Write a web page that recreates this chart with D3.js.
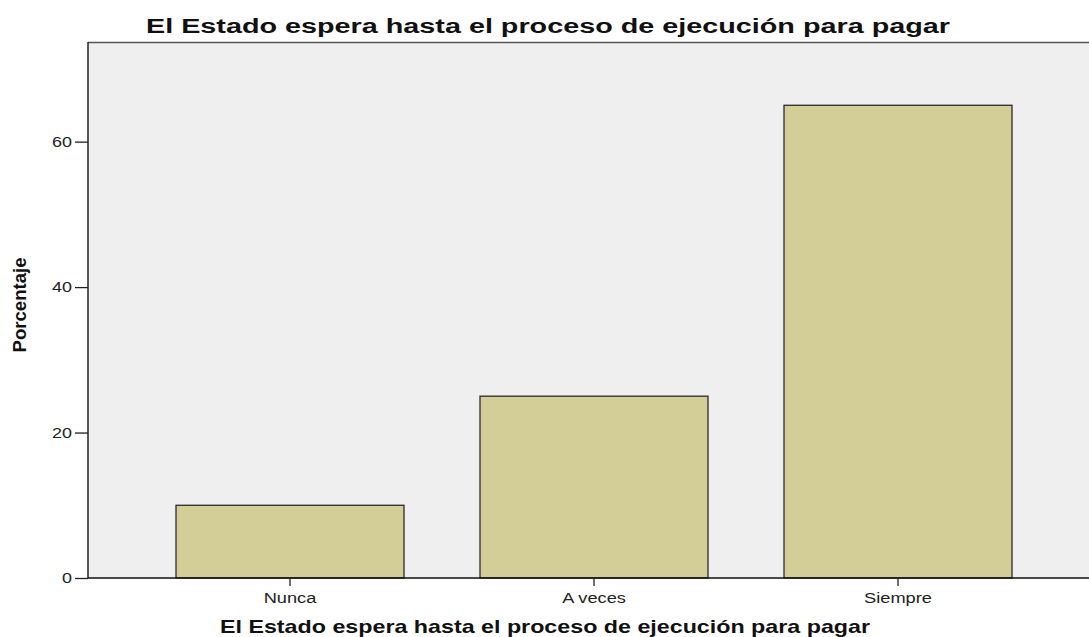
<!DOCTYPE html>
<html><head><meta charset="utf-8">
<script src="https://cdn.jsdelivr.net/npm/d3@7"></script>
<style>body{margin:0;background:#fff}svg{display:block}</style>
</head><body>
<svg id="c" width="1089" height="637"></svg>
<script>
const categories = ["Nunca", "A veces", "Siempre"];
const values = [10, 25, 65];
const yTicks = [0, 20, 40, 60];
const title = "El Estado espera hasta el proceso de ejecución para pagar";
const xTitle = "El Estado espera hasta el proceso de ejecución para pagar";
const yTitle = "Porcentaje";

const svg = d3.select("#c");
const L = 88, T = 42, R = 1089, B = 578;
const y = d3.scaleLinear().domain([0, 73.7]).range([B, T]);
const x = d3.scaleBand().domain(categories).range([138, 1050]).paddingInner(0.25).paddingOuter(0.125);
const FONT = "Liberation Sans, Arial, sans-serif";

svg.append("rect").attr("x", L).attr("y", T).attr("width", R - L).attr("height", B - T).attr("fill", "#efefef");
svg.append("line").attr("x1", L).attr("x2", R).attr("y1", T + 0.5).attr("y2", T + 0.5).attr("stroke", "#555").attr("stroke-width", 1.5);

svg.selectAll("rect.bar").data(values).join("rect").attr("class", "bar")
  .attr("x", (d, i) => x(categories[i]))
  .attr("y", d => y(d))
  .attr("width", x.bandwidth())
  .attr("height", d => B - y(d))
  .attr("fill", "#d3cd97").attr("stroke", "#2a2a2a").attr("stroke-width", 1.3);

function stretch(sel, k) {
  sel.each(function () {
    const len = this.getComputedTextLength();
    d3.select(this).attr("textLength", len * k).attr("lengthAdjust", "spacingAndGlyphs");
  });
}

const yAxis = svg.append("g").attr("transform", `translate(${L},0)`)
  .call(d3.axisLeft(y).tickValues(yTicks).tickSize(13).tickPadding(3).tickFormat(d3.format("d")));
yAxis.select(".domain").attr("stroke", "#222").attr("stroke-width", 1.5).attr("d", `M-0,${T}V${B}`);
yAxis.selectAll(".tick line").attr("stroke", "#222").attr("stroke-width", 1.3);
yAxis.selectAll("text").attr("font-family", FONT).attr("font-size", 14).attr("fill", "#222").call(stretch, 1.28);

const xAxis = svg.append("g").attr("transform", `translate(0,${B})`)
  .call(d3.axisBottom(x).tickSize(8).tickPadding(7));
xAxis.select(".domain").attr("stroke", "#111").attr("stroke-width", 1.5).attr("d", `M${L},0H${R}`);
xAxis.selectAll(".tick line").attr("stroke", "#222").attr("stroke-width", 1.3);
xAxis.selectAll("text").attr("font-family", FONT).attr("font-size", 14).attr("fill", "#222").call(stretch, 1.3);

svg.append("text").attr("x", 146).attr("y", 33).attr("textLength", 804).attr("lengthAdjust", "spacingAndGlyphs")
  .attr("font-family", FONT).attr("font-weight", "bold").attr("font-size", 20).attr("fill", "#111").text(title);

svg.append("text").attr("x", 220).attr("y", 633).attr("textLength", 650).attr("lengthAdjust", "spacingAndGlyphs")
  .attr("font-family", FONT).attr("font-weight", "bold").attr("font-size", 18.5).attr("fill", "#111").text(xTitle);

svg.append("text").attr("transform", "translate(26,305) rotate(-90)").attr("text-anchor", "middle")
  .attr("textLength", 95).attr("lengthAdjust", "spacingAndGlyphs")
  .attr("font-family", "Liberation Sans Narrow, Liberation Sans, Arial, sans-serif").attr("font-weight", "bold").attr("font-size", 18).attr("fill", "#111").text(yTitle);
</script>
</body></html>
